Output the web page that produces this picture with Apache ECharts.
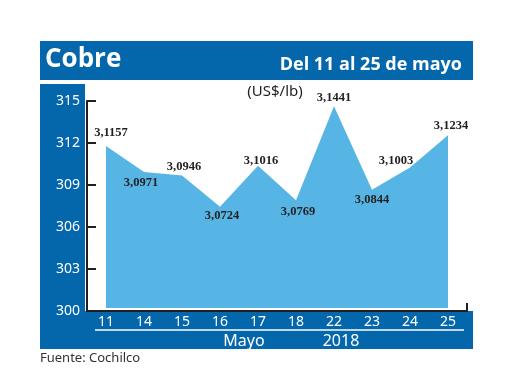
<!DOCTYPE html>
<html><head><meta charset="utf-8">
<script src="https://cdn.jsdelivr.net/npm/echarts@6/dist/echarts.min.js"></script>
<style>html,body{margin:0;padding:0;background:#fff}#c{width:520px;height:390px}</style>
</head><body><div id="c"></div>
<script>
const categories = ['11','14','15','16','17','18','22','23','24','25'];
const prices = [311.57, 309.71, 309.46, 307.24, 310.16, 307.69, 314.41, 308.44, 310.03, 312.34];
const yTicks = [300, 303, 306, 309, 312, 315];

const BLUE = '#0567ab';
const LIGHT = '#56b5e4';
const DARK = '#231f20';
// label offsets relative to each point (layout only)
const offs = [[5,-13],[-3,11],[2,-9],[2,9],[3,-5],[2,11],[0,-8],[0,10],[-14,-7],[3,-9]];

const chart = echarts.init(document.getElementById('c'), null, {renderer:'canvas'});
const option = {
  animation:false,
  backgroundColor:'#fff',
  grid:[
    {left:87, right:53, top:98, bottom:82},
    {left:87, right:53, top:101, bottom:79}
  ],
  xAxis:[
    {gridIndex:0, type:'category', data:categories, boundaryGap:true, show:false},
    {gridIndex:1, type:'category', data:categories, boundaryGap:true,
     axisLine:{show:true, lineStyle:{color:DARK, width:2}},
     axisTick:{show:false},
     axisLabel:{color:'#fff', fontSize:14, fontFamily:'Noto Sans', margin:4}}
  ],
  yAxis:[
    {gridIndex:0, type:'value', min:300, max:315, show:false},
    {gridIndex:1, type:'value', min:yTicks[0], max:yTicks[yTicks.length-1], interval:3,
     axisLine:{show:true, lineStyle:{color:DARK, width:2}},
     axisTick:{show:true, inside:true, length:9, lineStyle:{color:DARK, width:2}},
     axisLabel:{color:'#fff', fontSize:14, fontFamily:'Noto Sans', margin:7},
     splitLine:{show:false}}
  ],
  series:[{
    type:'line', xAxisIndex:0, yAxisIndex:0,
    data: prices.map((v,i)=>({value:v, label:{offset:offs[i]}})),
    symbol:'circle', symbolSize:1, showSymbol:true,
    itemStyle:{color:'rgba(0,0,0,0)'},
    lineStyle:{width:0, color:LIGHT},
    areaStyle:{color:LIGHT, opacity:1},
    label:{show:true, position:'inside', color:DARK, fontSize:12.5, fontWeight:'bold',
      fontFamily:'Liberation Serif',
      formatter:p=>(p.value/100).toFixed(4).replace('.',',')},
    z:3
  }],
  graphic:[
    {type:'rect', z:-10, shape:{x:40,y:41,width:433,height:39}, style:{fill:BLUE}},
    {type:'rect', z:-10, shape:{x:40,y:84,width:45,height:265}, style:{fill:BLUE}},
    {type:'rect', z:-10, shape:{x:40,y:311,width:433,height:38}, style:{fill:BLUE}},
    {type:'text', z:5, style:{x:45, y:60, text:'Cobre', fill:'#fff', font:'bold 26px "Open Sans"', textAlign:'left', textVerticalAlign:'middle'}},
    {type:'text', z:5, style:{x:462, y:65, text:'Del 11 al 25 de mayo', fill:'#fff', font:'bold 18px "Open Sans"', textAlign:'right', textVerticalAlign:'middle'}},
    {type:'text', z:5, style:{x:275, y:92, text:'(US$/lb)', fill:DARK, font:'15px "Noto Sans"', textAlign:'center', textVerticalAlign:'middle'}},
    {type:'line', z:5, shape:{x1:95,y1:330,x2:464,y2:330}, style:{stroke:'#fff', lineWidth:1.5}},
    {type:'line', z:5, shape:{x1:467,y1:303,x2:467,y2:311}, style:{stroke:DARK, lineWidth:2}},
    {type:'text', z:5, style:{x:244, y:341, text:'Mayo', fill:'#fff', font:'16px "Noto Sans"', textAlign:'center', textVerticalAlign:'middle'}},
    {type:'text', z:5, style:{x:341, y:341, text:'2018', fill:'#fff', font:'16px "Noto Sans"', textAlign:'center', textVerticalAlign:'middle'}},
    {type:'text', z:5, style:{x:40, y:358, text:'Fuente: Cochilco', fill:'#333', font:'13px "Noto Sans"', textAlign:'left', textVerticalAlign:'middle'}}
  ]
};
chart.setOption(option);
</script></body></html>
